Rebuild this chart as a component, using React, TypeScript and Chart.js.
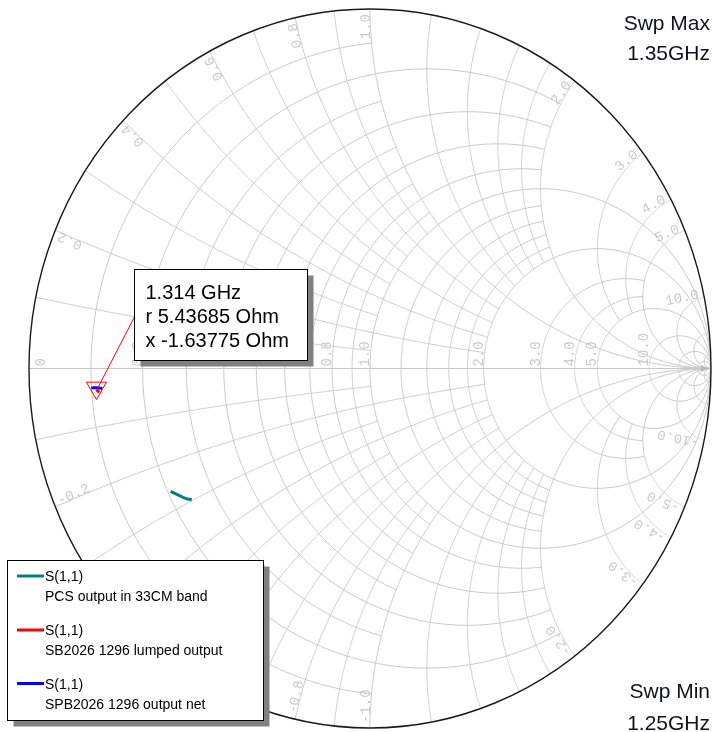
import React, { useEffect, useRef } from "react";
import { Chart, registerables } from "chart.js";

Chart.register(...registerables);

// ---------- data ----------
const Z0 = 50;
const sweepMaxLabel = ["Swp Max", "1.35GHz"];
const sweepMinLabel = ["Swp Min", "1.25GHz"];

// traces, impedance in Ohm (R + jX)
const pcsOhmR = [10.3, 10.8, 11.3, 11.7, 12.1];
const pcsOhmX = [-13.0, -13.6, -14.2, -14.6, -14.9];
const lumpedOhmR = [5.42, 5.5, 5.58, 5.66];
const lumpedOhmX = [-1.8, -1.88, -1.97, -2.06];
const netOhmR = [4.97, 5.2, 5.44, 5.7, 5.97];
const netOhmX = [-1.63, -1.63, -1.64, -1.68, -1.74];

const markerFreq = "1.314 GHz";
const markerR = 5.43685;
const markerX = -1.63775;

const legendSeries = ["S(1,1)", "S(1,1)", "S(1,1)"];
const legendNames = [
  "PCS output in 33CM band",
  "SB2026 1296 lumped output",
  "SPB2026 1296 output net",
];
const seriesColors = ["#008080", "#ff0000", "#0000ff"];

// Smith grid (normalized values); each group is drawn up to the limit named in its comment
const rOddFine = [0.1, 0.3, 0.5, 0.7, 0.9]; // up to |x| = 1
const rEvenFine = [0.2, 0.4, 0.6, 0.8]; // up to |x| = 2
const rMid = [1.2, 1.4, 1.6, 1.8]; // up to |x| = 2
const rCoarse = [3, 4]; // up to |x| = 5
const rFull = [1, 2, 5, 10, 20, 50];
const xOddFine = [0.1, 0.3, 0.5, 0.7, 0.9]; // up to r = 1
const xEvenFine = [0.2, 0.4, 0.6, 0.8]; // up to r = 2
const xMid = [1.2, 1.4, 1.6, 1.8]; // up to r = 2
const xCoarse = [3, 4]; // up to r = 5
const xFull = [1, 2, 5, 10, 20, 50];
const rLabels = [0, 0.2, 0.4, 0.6, 0.8, 1, 2, 3, 4, 5, 10];
const xLabels = [0.2, 0.4, 0.6, 0.8, 1, 2, 3, 4, 5, 10];

// ---------- helpers ----------
function gammaOf(r: number, x: number): [number, number] {
  const den = (r + 1) * (r + 1) + x * x;
  return [((r - 1) * (r + 1) + x * x) / den, (2 * x) / den];
}
function toPoints(R: number[], X: number[]) {
  return R.map((rv, i) => {
    const g = gammaOf(rv / Z0, X[i] / Z0);
    return { x: g[0], y: g[1] };
  });
}

const smithPlugin = {
  id: "smithGrid",
  beforeDatasetsDraw(chart: any) {
    const ctx = chart.ctx as CanvasRenderingContext2D;
    const sx = chart.scales.x;
    const sy = chart.scales.y;
    const P = (g: [number, number]) => [sx.getPixelForValue(g[0]), sy.getPixelForValue(g[1])];
    const cx = sx.getPixelForValue(0);
    const cy = sy.getPixelForValue(0);
    const rx = sx.getPixelForValue(1) - cx;
    const ry = cy - sy.getPixelForValue(1);

    ctx.save();
    ctx.beginPath();
    ctx.ellipse(cx, cy, rx, ry, 0, 0, Math.PI * 2);
    ctx.clip();
    ctx.strokeStyle = "#c8c8c8";
    ctx.lineWidth = 1;

    const N = 360;
    const rCircle = (r: number, xmax: number) => {
      const tm = isFinite(xmax) ? Math.atan(xmax) : Math.PI / 2 - 1e-5;
      ctx.beginPath();
      for (let i = 0; i <= N; i++) {
        const t = -tm + (2 * tm * i) / N;
        const p = P(gammaOf(r, Math.tan(t)));
        if (i === 0) ctx.moveTo(p[0], p[1]);
        else ctx.lineTo(p[0], p[1]);
      }
      ctx.stroke();
    };
    const xArc = (x: number, rmax: number) => {
      const tm = isFinite(rmax) ? Math.atan(rmax) : Math.PI / 2 - 1e-5;
      for (const s of [1, -1]) {
        ctx.beginPath();
        for (let i = 0; i <= N; i++) {
          const t = (tm * i) / N;
          const p = P(gammaOf(Math.tan(t), s * x));
          if (i === 0) ctx.moveTo(p[0], p[1]);
          else ctx.lineTo(p[0], p[1]);
        }
        ctx.stroke();
      }
    };
    rOddFine.forEach((r) => rCircle(r, 1));
    rEvenFine.forEach((r) => rCircle(r, 2));
    rMid.forEach((r) => rCircle(r, 2));
    rCoarse.forEach((r) => rCircle(r, 5));
    rFull.forEach((r) => rCircle(r, Infinity));
    xOddFine.forEach((x) => xArc(x, 1));
    xEvenFine.forEach((x) => xArc(x, 2));
    xMid.forEach((x) => xArc(x, 2));
    xCoarse.forEach((x) => xArc(x, 5));
    xFull.forEach((x) => xArc(x, Infinity));

    // real axis
    ctx.beginPath();
    ctx.moveTo(cx - rx, cy);
    ctx.lineTo(cx + rx, cy);
    ctx.stroke();
    ctx.restore();

    // arrow at right end of the axis
    ctx.save();
    ctx.fillStyle = "#b8b8b8";
    ctx.beginPath();
    ctx.moveTo(cx + rx - 2, cy);
    ctx.lineTo(cx + rx - 10, cy - 3);
    ctx.lineTo(cx + rx - 10, cy + 3);
    ctx.closePath();
    ctx.fill();
    ctx.restore();

    // outer circle
    ctx.save();
    ctx.strokeStyle = "#1a1a1a";
    ctx.lineWidth = 1.4;
    ctx.beginPath();
    ctx.ellipse(cx, cy, rx, ry, 0, 0, Math.PI * 2);
    ctx.stroke();
    ctx.restore();

    // labels
    ctx.save();
    ctx.font = '14px "Liberation Mono"';
    ctx.fillStyle = "#cacaca";
    ctx.textBaseline = "alphabetic";
    rLabels.forEach((r) => {
      const p = P(gammaOf(r, 0));
      const txt = r === 0 ? "0" : r.toFixed(1);
      ctx.save();
      ctx.translate(r === 0 ? p[0] + 16 : p[0] - 1, cy - 2);
      ctx.rotate(-Math.PI / 2);
      ctx.textAlign = "left";
      ctx.fillText(txt, 0, 0);
      ctx.restore();
    });
    const gap = 5;
    xLabels.forEach((x) => {
      for (const s of [1, -1]) {
        const p = P(gammaOf(0, s * x));
        let ux = p[0] - cx;
        let uy = p[1] - cy;
        const L = Math.hypot(ux, uy);
        ux /= L;
        uy /= L;
        const txt = (s < 0 ? "-" : "") + x.toFixed(1);
        ctx.save();
        ctx.translate(p[0] - ux * gap, p[1] - uy * gap);
        if (s > 0) {
          ctx.rotate(Math.atan2(uy, ux));
          ctx.textAlign = "right";
        } else {
          ctx.rotate(Math.atan2(-uy, -ux));
          ctx.textAlign = "left";
        }
        ctx.fillText(txt, 0, 0);
        ctx.restore();
      }
    });
    ctx.restore();
  },
  afterDatasetsDraw(chart: any) {
    const ctx = chart.ctx as CanvasRenderingContext2D;
    const sx = chart.scales.x;
    const sy = chart.scales.y;
    const g = gammaOf(markerR / Z0, markerX / Z0);
    const mx = sx.getPixelForValue(g[0]);
    const my = sy.getPixelForValue(g[1]);

    // marker triangle
    ctx.save();
    ctx.strokeStyle = "#ff0000";
    ctx.lineWidth = 1;
    ctx.beginPath();
    ctx.moveTo(mx - 10, my - 5.5);
    ctx.lineTo(mx + 10, my - 5.5);
    ctx.lineTo(mx, my + 12);
    ctx.closePath();
    ctx.stroke();

    // marker readout box
    const bx = 134.5, by = 269.5, bw = 173, bh = 91;
    ctx.beginPath();
    ctx.moveTo(bx, by + bh * 0.52);
    ctx.lineTo(mx + 1, my + 1);
    ctx.stroke();
    ctx.fillStyle = "#808080";
    ctx.fillRect(bx + 6, by + 6, bw, bh);
    ctx.fillStyle = "#ffffff";
    ctx.fillRect(bx, by, bw, bh);
    ctx.strokeStyle = "#000000";
    ctx.strokeRect(bx, by, bw, bh);
    ctx.fillStyle = "#000000";
    ctx.font = '20px "Liberation Sans"';
    ctx.textAlign = "left";
    ctx.textBaseline = "alphabetic";
    ctx.fillText(markerFreq, 145.5, 299);
    ctx.fillText("r " + markerR.toFixed(5) + " Ohm", 145.5, 322.5);
    ctx.fillText("x " + markerX.toFixed(5) + " Ohm", 145.5, 346.5);

    // legend
    const lx = 7.5, ly = 560.5, lw = 256, lh = 160;
    ctx.fillStyle = "#808080";
    ctx.fillRect(lx + 6, ly + 6, lw, lh);
    ctx.fillStyle = "#ffffff";
    ctx.fillRect(lx, ly, lw, lh);
    ctx.strokeStyle = "#000000";
    ctx.lineWidth = 1;
    ctx.strokeRect(lx, ly, lw, lh);
    ctx.font = '14px "Liberation Sans"';
    const rows = [576, 630, 683.5];
    legendNames.forEach((name, i) => {
      ctx.strokeStyle = seriesColors[i];
      ctx.lineWidth = 3;
      ctx.beginPath();
      ctx.moveTo(17, rows[i]);
      ctx.lineTo(44, rows[i]);
      ctx.stroke();
      ctx.fillStyle = "#000000";
      ctx.fillText(legendSeries[i], 45, rows[i] + 5);
      ctx.fillText(name, 45, rows[i] + 25);
    });

    // sweep labels
    ctx.fillStyle = "#111122";
    ctx.font = '21px "Liberation Sans"';
    ctx.textAlign = "right";
    ctx.fillText(sweepMaxLabel[0], 710, 29.5);
    ctx.fillText(sweepMaxLabel[1], 710, 60);
    ctx.fillText(sweepMinLabel[0], 710, 698);
    ctx.fillText(sweepMinLabel[1], 710, 730);
    ctx.restore();
  },
};

export default function App() {
  const ref = useRef<HTMLCanvasElement | null>(null);
  useEffect(() => {
    if (!ref.current) return;
    const chart = new Chart(ref.current, {
      type: "scatter",
      data: {
        datasets: [
          {
            label: legendNames[0],
            data: toPoints(pcsOhmR, pcsOhmX),
            showLine: true,
            borderColor: seriesColors[0],
            borderWidth: 3,
            pointRadius: 0,
            order: 3,
          },
          {
            label: legendNames[2],
            data: toPoints(netOhmR, netOhmX),
            showLine: true,
            borderColor: seriesColors[2],
            borderWidth: 3,
            pointRadius: 0,
            order: 2,
          },
          {
            label: legendNames[1],
            data: toPoints(lumpedOhmR, lumpedOhmX),
            showLine: true,
            borderColor: seriesColors[1],
            borderWidth: 3,
            pointRadius: 0,
            order: 1,
          },
        ],
      },
      options: {
        responsive: false,
        animation: false,
        events: [],
        layout: { padding: { left: 29, right: 6, top: 9, bottom: 4 } },
        scales: {
          x: { type: "linear", min: -1, max: 1, display: false },
          y: { type: "linear", min: -1, max: 1, display: false },
        },
        plugins: {
          legend: { display: false },
          tooltip: { enabled: false },
        },
      },
      plugins: [smithPlugin],
    });
    return () => chart.destroy();
  }, []);
  return (
    <div style={{ position: "absolute", left: 0, top: 0, width: 717, height: 732, background: "#fff" }}>
      <canvas ref={ref} width={717} height={732} style={{ display: "block" }} />
    </div>
  );
}
